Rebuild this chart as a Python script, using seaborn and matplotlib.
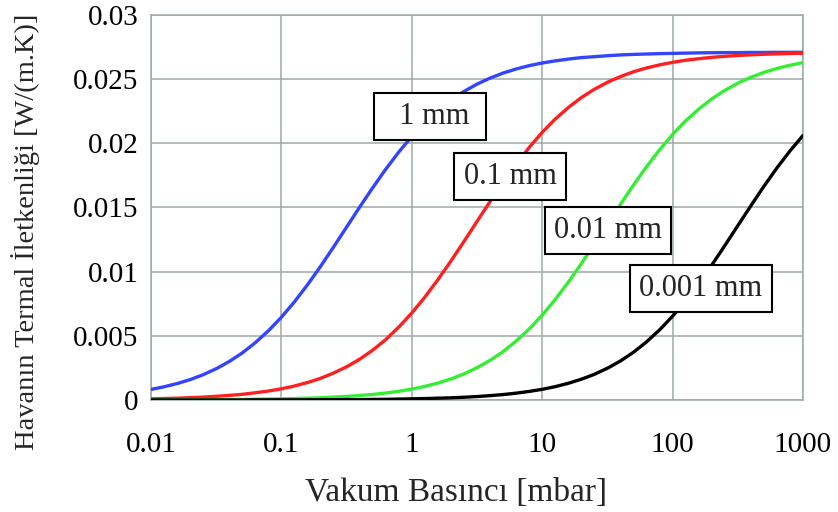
import numpy as np
import pandas as pd
import matplotlib
matplotlib.use("Agg")
import matplotlib.pyplot as plt
import seaborn as sns

# Pressure values (mbar)
pressure = [0.01, 0.0125, 0.016, 0.02, 0.025, 0.032, 0.04, 0.05, 0.063, 0.08,
            0.1, 0.125, 0.16, 0.2, 0.25, 0.32, 0.4, 0.5, 0.63, 0.8,
            1, 1.25, 1.6, 2, 2.5, 3.2, 4, 5, 6.3, 8,
            10, 12.5, 16, 20, 25, 32, 40, 50, 63, 80,
            100, 125, 160, 200, 250, 320, 400, 500, 630, 800, 1000]

k_1mm = [0.00082, 0.00102, 0.00129, 0.00159, 0.00196, 0.00246, 0.00301, 0.00366, 0.00446, 0.00542,
         0.00645, 0.00761, 0.00903, 0.01042, 0.01189, 0.01355, 0.01506, 0.01652, 0.01797, 0.01936,
         0.02053, 0.02158, 0.02258, 0.02336, 0.02403, 0.02464, 0.02509, 0.02547, 0.02579, 0.02606,
         0.02626, 0.02642, 0.02657, 0.02668, 0.02675, 0.02683, 0.02689, 0.02693, 0.02696, 0.02699,
         0.02701, 0.02703, 0.02705, 0.02706, 0.02707, 0.02707, 0.02708, 0.02708, 0.02709, 0.02709, 0.02709]
k_01mm = [0.00009, 0.00011, 0.00014, 0.00018, 0.00022, 0.00029, 0.00036, 0.00044, 0.00056, 0.00070,
          0.00087, 0.00108, 0.00137, 0.00169, 0.00209, 0.00261, 0.00319, 0.00387, 0.00470, 0.00571,
          0.00678, 0.00797, 0.00943, 0.01084, 0.01232, 0.01399, 0.01549, 0.01694, 0.01836, 0.01971,
          0.02085, 0.02186, 0.02282, 0.02357, 0.02420, 0.02478, 0.02521, 0.02557, 0.02587, 0.02612,
          0.02631, 0.02647, 0.02660, 0.02670, 0.02678, 0.02685, 0.02690, 0.02694, 0.02697, 0.02700, 0.02702]
k_001mm = [0.00001, 0.00001, 0.00001, 0.00002, 0.00002, 0.00003, 0.00003, 0.00004, 0.00006, 0.00007,
           0.00009, 0.00011, 0.00014, 0.00017, 0.00022, 0.00028, 0.00035, 0.00043, 0.00054, 0.00068,
           0.00085, 0.00105, 0.00133, 0.00164, 0.00202, 0.00254, 0.00310, 0.00376, 0.00458, 0.00556,
           0.00661, 0.00779, 0.00923, 0.01063, 0.01210, 0.01377, 0.01527, 0.01673, 0.01816, 0.01953,
           0.02069, 0.02172, 0.02270, 0.02346, 0.02411, 0.02471, 0.02515, 0.02552, 0.02583, 0.02609, 0.02629]
k_0001mm = [0.0, 0.0, 0.0, 0.0, 0.0, 0.0, 0.0, 0.0, 0.00001, 0.00001,
            0.00001, 0.00001, 0.00001, 0.00002, 0.00002, 0.00003, 0.00003, 0.00004, 0.00005, 0.00007,
            0.00009, 0.00011, 0.00014, 0.00017, 0.00021, 0.00027, 0.00034, 0.00042, 0.00053, 0.00067,
            0.00083, 0.00103, 0.00131, 0.00162, 0.00199, 0.00250, 0.00305, 0.00371, 0.00452, 0.00549,
            0.00653, 0.00770, 0.00913, 0.01052, 0.01199, 0.01366, 0.01516, 0.01663, 0.01807, 0.01944, 0.02061]

series_names = ["1 mm", "0.1 mm", "0.01 mm", "0.001 mm"]
series_colors = ["#3344ff", "#ff1f1f", "#33ee33", "#000000"]
label_texts = ["  1 mm ", "0.1 mm", "0.01 mm", "0.001 mm"]
label_pos_x = [1.38, 5.66, 32.0, 165.0]
label_pos_y = [0.0221, 0.0174, 0.0132, 0.0087]

x_ticks = [0.01, 0.1, 1, 10, 100, 1000]
x_ticklabels = ["0.01", "0.1", "1", "10", "100", "1000"]
y_ticks = [0, 0.005, 0.01, 0.015, 0.02, 0.025, 0.03]
y_ticklabels = ["0", "0.005", "0.01", "0.015", "0.02", "0.025", "0.03"]

df = pd.concat([
    pd.DataFrame({"p": pressure, "k": vals, "d": name})
    for name, vals in zip(series_names, [k_1mm, k_01mm, k_001mm, k_0001mm])
])

sns.set_theme(style="whitegrid")
plt.rcParams["font.family"] = ["Liberation Serif", "DejaVu Serif"]

grid_c = "#9eaaa6"
fig = plt.figure(figsize=(8.38, 5.12), dpi=100)
ax = fig.add_axes([0.1802, 0.2188, 0.7780, 0.7519])

for name, col in zip(series_names, series_colors):
    sns.lineplot(data=df[df["d"] == name], x="p", y="k", color=col, lw=2.4,
                 ax=ax, legend=False, zorder=3)

ax.set_xscale("log")
ax.set_xlim(0.01, 1000)
ax.set_ylim(0, 0.03)
ax.set_xticks(x_ticks)
ax.set_xticklabels(x_ticklabels)
ax.set_yticks(y_ticks)
ax.set_yticklabels(y_ticklabels)
ax.minorticks_off()
ax.tick_params(axis="both", which="major", labelsize=21, color=grid_c,
               length=6, width=1.1, labelcolor="black")
ax.tick_params(axis="x", pad=17)
ax.tick_params(axis="y", pad=3)
ax.grid(True, color=grid_c, lw=1.1)
for s in ax.spines.values():
    s.set_visible(True)
    s.set_color(grid_c)
    s.set_linewidth(1.1)
ax.set_xlabel("")
ax.set_ylabel("")

for txt, lx, ly in zip(label_texts, label_pos_x, label_pos_y):
    ax.text(lx, ly, txt, fontsize=22, ha="center", va="center", zorder=5,
            bbox=dict(boxstyle="square,pad=0.3", fc="white", ec="black", lw=1.5))

fig.text(0.544, 0.037, "Vakum Basıncı [mbar]", fontsize=24, ha="center", va="center")
fig.text(0.031, 0.547, "Havanın Termal İletkenliği [W/(m.K)]", fontsize=20.5,
         ha="center", va="center", rotation=90)

fig.savefig("out.png", dpi=100)
